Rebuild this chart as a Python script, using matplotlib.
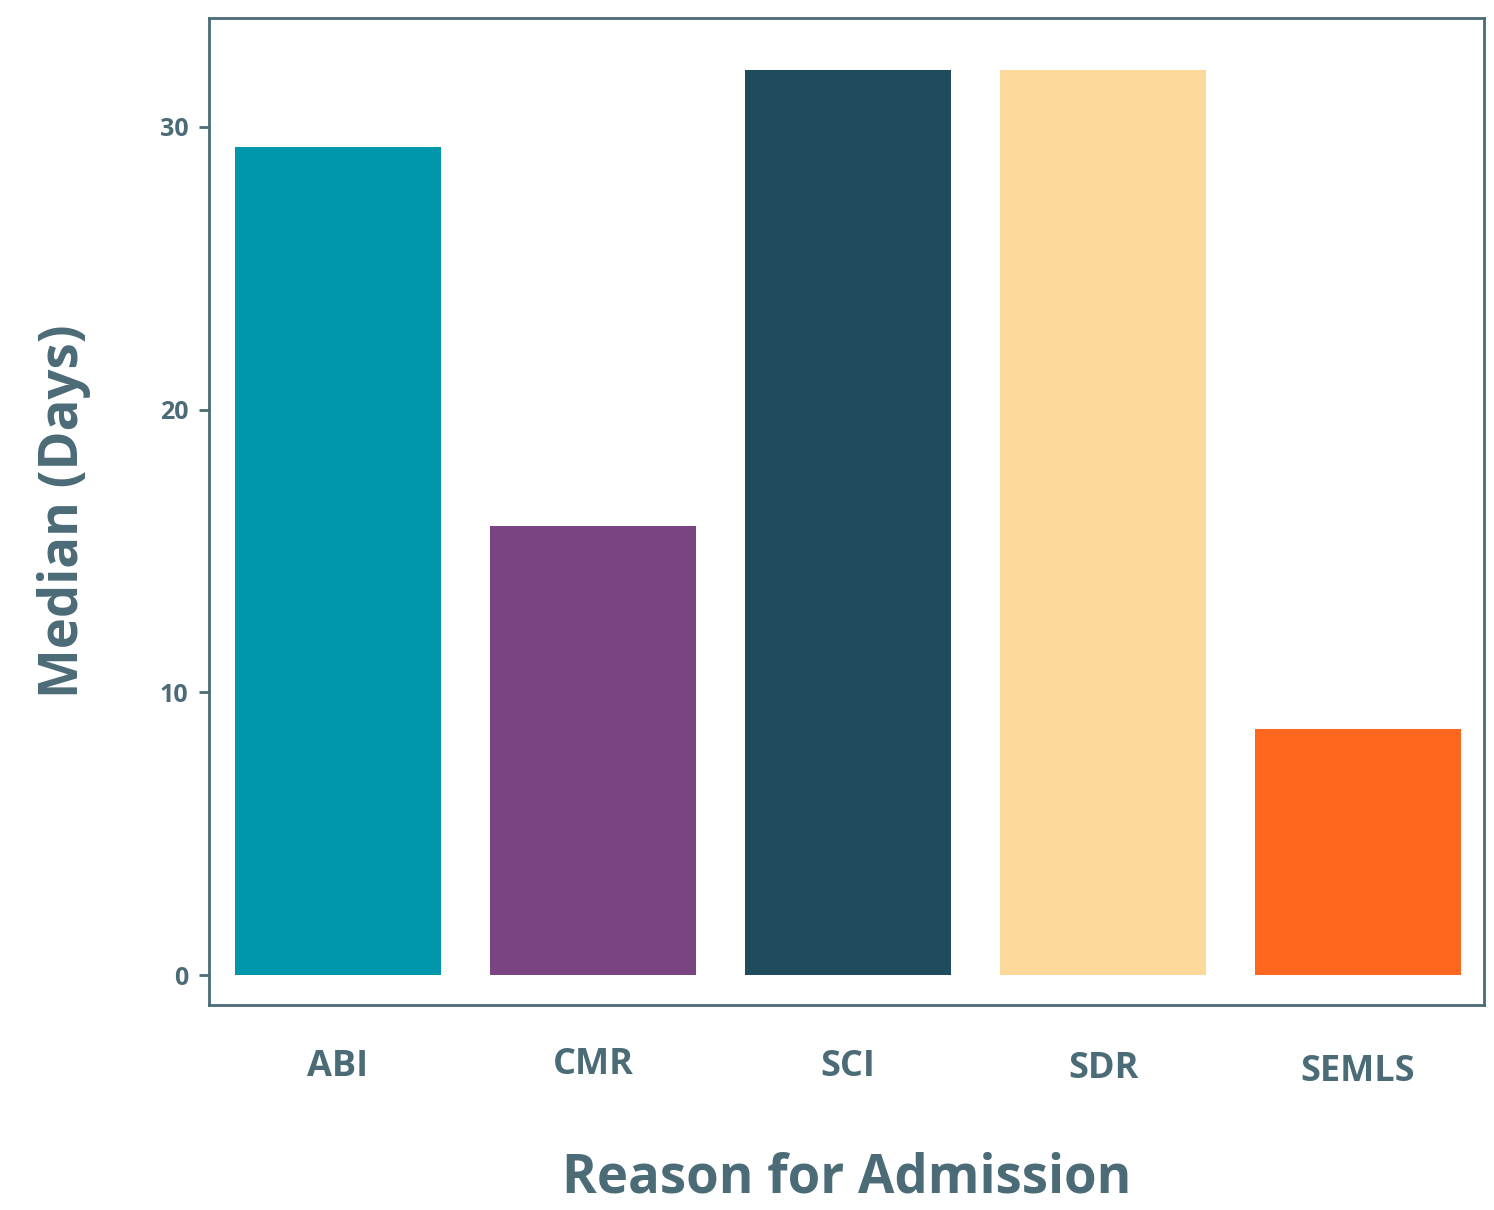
import matplotlib.pyplot as plt
from matplotlib.transforms import ScaledTranslation

reasons = ['ABI', 'CMR', 'SCI', 'SDR', 'SEMLS']
median_days = [29.3, 15.9, 32.0, 32.0, 8.7]
bar_colors = ['#0096ab', '#7a4482', '#1f4c5c', '#fdd89b', '#ff671f']
y_ticks = [0, 10, 20, 30]

text_color = '#4b6b77'
plt.rcParams['font.family'] = ['Open Sans', 'DejaVu Sans']

fig = plt.figure(figsize=(14.94, 12.10), dpi=100)
ax = fig.add_axes([0.1399, 0.1694, 0.8534, 0.8157])

ax.bar(range(len(reasons)), median_days, width=0.81, color=bar_colors)

ax.set_xlim(-0.506, 4.494)
ax.set_ylim(-1.06, 33.85)
ax.set_xticks(range(len(reasons)))
ax.set_xticklabels(reasons, fontsize=26, fontweight='bold', color=text_color)
ax.set_yticks(y_ticks)
ax.set_yticklabels([str(t) for t in y_ticks], fontsize=18, fontweight='bold', color=text_color)
ax.tick_params(axis='x', length=0, pad=32)
ax.tick_params(axis='y', length=7, width=2, color=text_color, pad=8)

# slight vertical wobble of the category labels, as in the original
offsets = [0, 2, 0, -2, -5]
for lab, off in zip(ax.get_xticklabels(), offsets):
    lab.set_transform(lab.get_transform() + ScaledTranslation(0, off / 100, fig.dpi_scale_trans))

for side in ['top', 'bottom', 'left', 'right']:
    ax.spines[side].set_color(text_color)
    ax.spines[side].set_linewidth(2)

ax.set_xlabel('Reason for Admission', fontsize=38, fontweight='bold', color=text_color, labelpad=44)
ax.set_ylabel('Median (Days)', fontsize=38, fontweight='bold', color=text_color, labelpad=49)

fig.savefig('out.png', dpi=100, facecolor='white')
